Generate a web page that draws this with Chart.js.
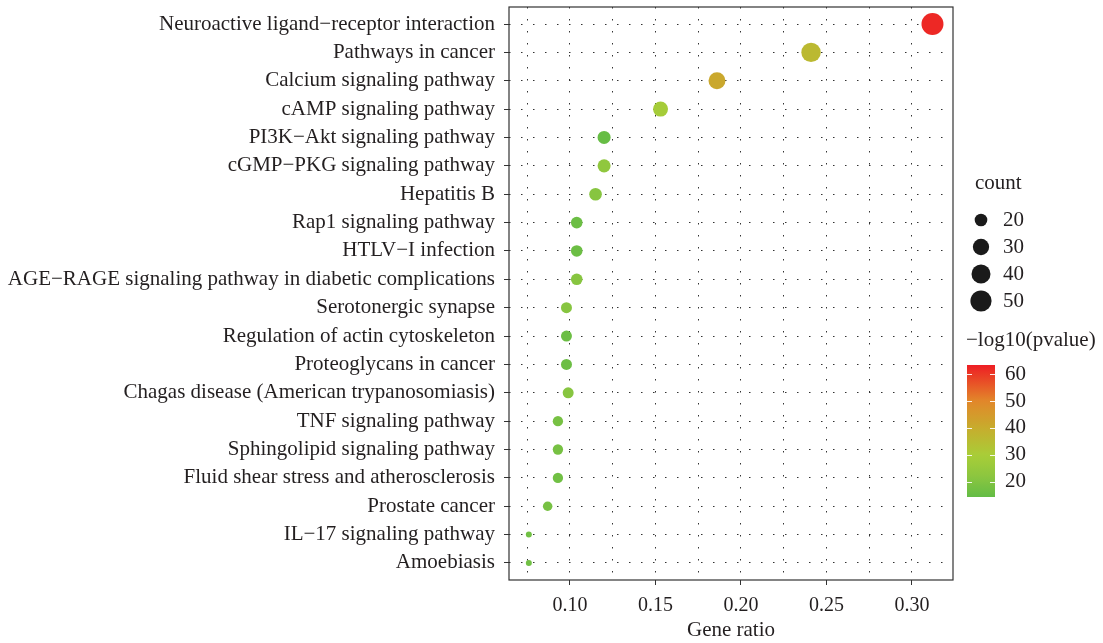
<!DOCTYPE html>
<html>
<head>
<meta charset="utf-8">
<script src="https://cdn.jsdelivr.net/npm/chart.js@4.4.0/dist/chart.umd.min.js"></script>
<style>
  html, body { margin: 0; background: #fff; }
</style>
</head>
<body>
<canvas id="dotplot" width="1103" height="643"></canvas>
<script>
// KEGG enrichment, top 20 pathways
const pathways = [
  "Neuroactive ligand\u2212receptor interaction",
  "Pathways in cancer",
  "Calcium signaling pathway",
  "cAMP signaling pathway",
  "PI3K\u2212Akt signaling pathway",
  "cGMP\u2212PKG signaling pathway",
  "Hepatitis B",
  "Rap1 signaling pathway",
  "HTLV\u2212I infection",
  "AGE\u2212RAGE signaling pathway in diabetic complications",
  "Serotonergic synapse",
  "Regulation of actin cytoskeleton",
  "Proteoglycans in cancer",
  "Chagas disease (American trypanosomiasis)",
  "TNF signaling pathway",
  "Sphingolipid signaling pathway",
  "Fluid shear stress and atherosclerosis",
  "Prostate cancer",
  "IL\u221217 signaling pathway",
  "Amoebiasis"
];
const geneRatio = [0.312, 0.241, 0.186, 0.153, 0.120, 0.120, 0.115, 0.104, 0.104, 0.104,
                   0.098, 0.098, 0.098, 0.099, 0.093, 0.093, 0.093, 0.087, 0.076, 0.076];
const geneCount = [54, 42, 32, 26, 21, 21, 20, 18, 18, 18,
                   17, 17, 17, 17, 16, 16, 16, 15, 13, 13];
const logP = [62, 36, 41, 29, 15, 23, 21, 16, 16, 21,
              21, 16, 16, 21, 18, 18, 17, 18, 17, 17];

const xTicks = [0.075, 0.10, 0.125, 0.15, 0.175, 0.20, 0.225, 0.25, 0.275, 0.30];
const countLegend = [20, 30, 40, 50];
const pvalueLegend = [20, 30, 40, 50, 60];

// colour ramp for -log10(pvalue)
const rampStops = [
  [14.3, [99, 188, 70]],
  [22, [140, 198, 63]],
  [30, [169, 205, 56]],
  [40, [199, 172, 45]],
  [50, [226, 135, 42]],
  [63.4, [238, 29, 36]]
];
const pMin = 14.3, pMax = 63.4;

function colorFor(v) {
  for (let i = 1; i < rampStops.length; i++) {
    const [v0, c0] = rampStops[i - 1];
    const [v1, c1] = rampStops[i];
    if (v <= v1 || i === rampStops.length - 1) {
      const t = Math.max(0, Math.min(1, (v - v0) / (v1 - v0)));
      const c = c0.map((a, k) => Math.round(a + (c1[k] - a) * t));
      return `rgb(${c[0]},${c[1]},${c[2]})`;
    }
  }
}

const cMin = Math.min(...geneCount), cMax = Math.max(...geneCount);
function radiusFor(c) {
  return 3 + 8 * Math.sqrt((c - cMin) / (cMax - cMin));
}

const serif = '"Liberation Serif", "DejaVu Serif", serif';
const ink = "#231f20";
const dots = [1.5, 10.5];

const frame = {
  id: "frame",
  afterDatasetsDraw(chart) {
    const { ctx, chartArea: a } = chart;
    ctx.save();
    ctx.strokeStyle = "#333";
    ctx.lineWidth = 1.2;
    ctx.strokeRect(a.left, a.top, a.right - a.left, a.bottom - a.top);
    ctx.restore();
  }
};

const legends = {
  id: "legends",
  afterDraw(chart) {
    const ctx = chart.ctx;
    ctx.save();
    ctx.font = "21px " + serif;
    ctx.fillStyle = ink;
    ctx.textBaseline = "middle";
    ctx.textAlign = "left";
    ctx.fillText("count", 975, 183);
    countLegend.forEach((c, i) => {
      const y = 220 + i * 27;
      ctx.beginPath();
      ctx.arc(981, y, radiusFor(c), 0, Math.PI * 2);
      ctx.fillStyle = "#1a1a1a";
      ctx.fill();
      ctx.fillStyle = ink;
      ctx.fillText(String(c), 1003, y);
    });

    ctx.fillText("\u2212log10(pvalue)", 966, 340);
    const bx = 967, by = 365, bw = 28, bh = 132;
    const yFor = v => by + bh - (v - pMin) / (pMax - pMin) * bh;
    const grad = ctx.createLinearGradient(0, by + bh, 0, by);
    for (let v = pMin; v <= pMax; v += 2) {
      grad.addColorStop((v - pMin) / (pMax - pMin), colorFor(v));
    }
    grad.addColorStop(1, colorFor(pMax));
    ctx.fillStyle = grad;
    ctx.fillRect(bx, by, bw, bh);
    ctx.strokeStyle = "rgba(255,255,255,0.9)";
    ctx.lineWidth = 1;
    pvalueLegend.forEach(v => {
      const y = Math.round(yFor(v)) + 0.5;
      ctx.beginPath();
      ctx.moveTo(bx, y); ctx.lineTo(bx + 5, y);
      ctx.moveTo(bx + bw - 5, y); ctx.lineTo(bx + bw, y);
      ctx.stroke();
      ctx.fillStyle = ink;
      ctx.fillText(String(v), 1005, yFor(v));
    });
    ctx.restore();
  }
};

new Chart(document.getElementById("dotplot"), {
  type: "scatter",
  data: {
    datasets: [{
      data: geneRatio.map((x, i) => ({ x: x, y: i })),
      pointRadius: geneCount.map(radiusFor),
      pointHoverRadius: geneCount.map(radiusFor),
      backgroundColor: logP.map(colorFor),
      borderWidth: 0
    }]
  },
  options: {
    responsive: false,
    animation: false,
    events: [],
    layout: { autoPadding: false, padding: { top: 7, right: 150, left: 0, bottom: 0 } },
    plugins: { legend: { display: false }, tooltip: { enabled: false } },
    scales: {
      x: {
        type: "linear",
        min: 0.0644,
        max: 0.324,
        afterBuildTicks: s => { s.ticks = xTicks.map(v => ({ value: v })); },
        afterFit: s => { s.height = 63; s.paddingLeft = 0; s.paddingRight = 0; },
        ticks: {
          autoSkip: false,
          maxRotation: 0,
          padding: 9,
          color: ink,
          font: { family: serif, size: 20 },
          callback: v => (Math.round(v * 1000) % 50 === 0 ? v.toFixed(2) : "")
        },
        grid: {
          color: "#333",
          lineWidth: 1,
          tickLength: 5,
          tickColor: c => (Math.round(c.tick.value * 1000) % 50 === 0 ? "#333" : "rgba(0,0,0,0)")
        },
        border: { display: false, dash: dots },
        title: {
          display: true,
          text: "Gene ratio",
          color: ink,
          font: { family: serif, size: 21 },
          padding: { top: 0, bottom: 0 }
        }
      },
      y: {
        type: "linear",
        min: -0.6,
        max: 19.6,
        reverse: true,
        afterBuildTicks: s => { s.ticks = pathways.map((_, i) => ({ value: i })); },
        afterFit: s => { s.width = 509; s.paddingTop = 0; s.paddingBottom = 0; },
        ticks: {
          autoSkip: false,
          padding: 9,
          color: ink,
          font: { family: serif, size: 21 },
          callback: v => pathways[v]
        },
        grid: { color: "#333", lineWidth: 1, tickLength: 5, tickColor: "#333" },
        border: { display: false, dash: dots }
      }
    }
  },
  plugins: [frame, legends]
});
</script>
</body>
</html>
